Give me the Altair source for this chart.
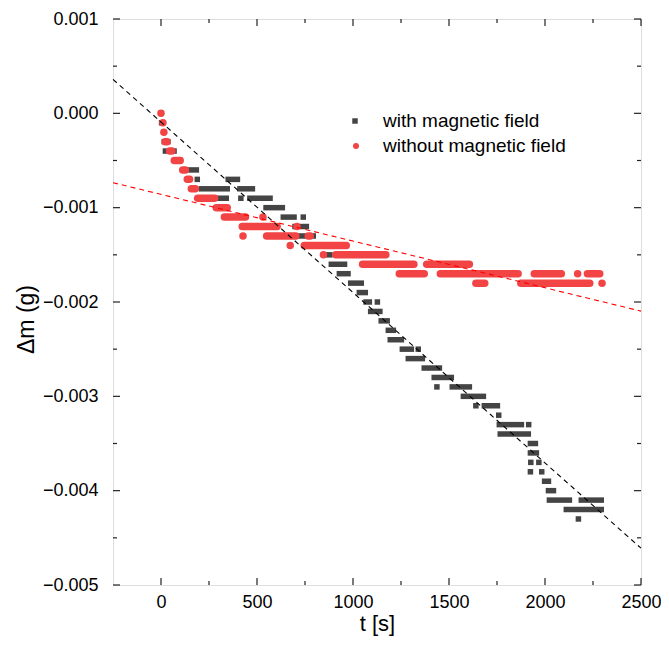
import altair as alt
import pandas as pd

# ---------------- data ----------------
# "with magnetic field": runs of equal readings -> value (g), first t (s), last t (s)
with_value = [0.0000, -0.0001, -0.0002, -0.0003, -0.0004, -0.0005, -0.0006,
              -0.0007, -0.0007, -0.0008, -0.0008, -0.0009, -0.0009, -0.0009,
              -0.0010, -0.0011, -0.0011, -0.0012, -0.0013, -0.0014, -0.0015,
              -0.0016, -0.0017, -0.0018, -0.0019, -0.0020, -0.0020, -0.0021,
              -0.0022, -0.0023, -0.0024, -0.0025, -0.0025, -0.0026, -0.0027,
              -0.0028, -0.0029, -0.0029, -0.0030, -0.0031, -0.0031, -0.0032,
              -0.0033, -0.0033, -0.0034, -0.0035, -0.0036, -0.0037, -0.0037,
              -0.0038, -0.0038, -0.0039, -0.0040, -0.0041, -0.0041, -0.0042,
              -0.0043]
with_t_start = [0, 3, 14, 17, 23, 85, 151, 189, 350, 211, 411, 290, 416, 463,
                547, 637, 741, 698, 724, 800, 860, 887, 929, 988, 1033, 1068,
                1127, 1092, 1147, 1184, 1194, 1257, 1340, 1288, 1371, 1423,
                1437, 1517, 1575, 1640, 1684, 1759, 1762, 1915, 1767, 1924,
                1924, 1926, 1968, 1924, 1983, 1998, 2018, 2023, 2189, 2111,
                2174]
with_t_end = [0, 3, 14, 36, 68, 100, 184, 189, 398, 345, 476, 340, 416, 568,
              632, 693, 741, 757, 793, 840, 880, 956, 974, 1043, 1064, 1085,
              1127, 1140, 1178, 1210, 1252, 1304, 1340, 1361, 1450, 1512,
              1437, 1606, 1679, 1640, 1752, 1759, 1877, 1915, 1913, 1950,
              1955, 1926, 1968, 1924, 1983, 2018, 2044, 2127, 2293, 2293,
              2174]

# "without magnetic field"
without_value = [0.0000, -0.0001, -0.0002, -0.0003, -0.0004, -0.0005, -0.0006,
                 -0.0007, -0.0008, -0.0009, -0.0010, -0.0011, -0.0011, -0.0012,
                 -0.0012, -0.0013, -0.0013, -0.0013, -0.0014, -0.0014, -0.0015,
                 -0.0015, -0.0016, -0.0016, -0.0017, -0.0017, -0.0017, -0.0017,
                 -0.0017, -0.0018, -0.0018, -0.0018]
without_t_start = [0, 10, 15, 22, 45, 69, 113, 137, 158, 191, 288, 330, 531,
                   423, 708, 427, 550, 767, 673, 746, 846, 910, 1050, 1384,
                   1241, 1455, 1944, 2170, 2221, 1640, 1874, 2297]
without_t_end = [0, 10, 15, 31, 57, 100, 127, 149, 179, 279, 345, 440, 531,
                 605, 708, 427, 702, 777, 673, 965, 846, 1171, 1317, 1606,
                 1371, 1860, 2085, 2170, 2285, 1686, 2233, 2297]

# linear fits: intercept (g), slope (g/s)
fit_names = ["with", "without"]
fit_intercept = [-0.000092, -0.000859]
fit_slope = [-1.807e-6, -4.95e-7]

legend_labels = ["with magnetic field", "without magnetic field"]

x_major = [0, 500, 1000, 1500, 2000, 2500]
x_minor = [250, 750, 1250, 1750, 2250]
y_major = [-0.005, -0.004, -0.003, -0.002, -0.001, 0.000, 0.001]
y_minor = [-0.0045, -0.0035, -0.0025, -0.0015, -0.0005, 0.0005]

X_DOMAIN = [-250, 2500]
Y_DOMAIN = [-0.005, 0.001]

# ---------------- tables ----------------
df_with = pd.DataFrame({"v": with_value, "t0": with_t_start, "t1": with_t_end})
df_without = pd.DataFrame({"v": without_value, "t0": without_t_start, "t1": without_t_end})
fit_rows = []
for n, a, b in zip(fit_names, fit_intercept, fit_slope):
    for t in X_DOMAIN:
        fit_rows.append({"series": n, "t": t, "v": a + b * t})
df_fit = pd.DataFrame(fit_rows)

W, H = 528, 566
BLACK = "#444444"
RED = "#F24444"
FONT = "Liberation Sans"

xs = alt.Scale(domain=X_DOMAIN, nice=False, zero=False)
ys = alt.Scale(domain=Y_DOMAIN, nice=False, zero=False)

x_axis = alt.Axis(
    values=x_major, format="d", title="t [s]", grid=False, ticks=False,
    domain=False, labelFontSize=18, labelPadding=8, titleFontSize=22,
    titleFontWeight="normal", titlePadding=2, labelColor="#000",
    titleColor="#000", labelFont=FONT, titleFont=FONT, labelFlush=False)
y_axis = alt.Axis(
    values=y_major, format=".3f", title="Δm (g)", grid=False, ticks=False,
    domain=False, labelFontSize=18, labelPadding=15, titleFontSize=23,
    titleFontWeight="normal", titlePadding=4, labelColor="#000",
    titleColor="#000", labelFont=FONT, titleFont=FONT, labelFlush=False,
    titleY=300)

def X(field):
    return alt.X(field, type="quantitative", scale=xs, axis=x_axis)

def Y(field):
    return alt.Y(field, type="quantitative", scale=ys, axis=y_axis)

# points drawn as runs of equal readings
with_layer = alt.Chart(df_with).mark_rule(
    color=BLACK, strokeWidth=5.5, strokeCap="square"
).encode(x=X("t0"), x2="t1:Q", y=Y("v"))

without_layer = alt.Chart(df_without).mark_rule(
    color=RED, strokeWidth=7.5, strokeCap="round"
).encode(x=X("t0"), x2="t1:Q", y=Y("v"))

fit_with = alt.Chart(df_fit).transform_filter(alt.datum.series == "with").mark_line(
    color="#000000", strokeWidth=1.1, strokeDash=[5, 4]
).encode(x=X("t"), y=Y("v"))

fit_without = alt.Chart(df_fit).transform_filter(alt.datum.series == "without").mark_line(
    color="#FF0000", strokeWidth=1.1, strokeDash=[5, 4]
).encode(x=X("t"), y=Y("v"))

# inward ticks
def xticks(vals, length):
    d = pd.DataFrame({"t": vals})
    base = alt.Chart(d).mark_rule(color="#222", strokeWidth=1.2)
    bottom = base.encode(x=X("t"), y=alt.value(H), y2=alt.value(H - length))
    top = base.encode(x=X("t"), y=alt.value(0), y2=alt.value(length))
    return [bottom, top]

def yticks(vals, length):
    d = pd.DataFrame({"v": vals})
    base = alt.Chart(d).mark_rule(color="#222", strokeWidth=1.2)
    left = base.encode(y=Y("v"), x=alt.value(0), x2=alt.value(length))
    right = base.encode(y=Y("v"), x=alt.value(W), x2=alt.value(W - length))
    return [left, right]

tick_layers = xticks(x_major, 7) + xticks(x_minor, 4) + yticks(y_major, 7) + yticks(y_minor, 4)

# legend
df_leg = pd.DataFrame({"label": legend_labels, "row": [0, 1]})
leg_sq = alt.Chart(df_leg).transform_filter(alt.datum.row == 0).mark_square(
    color=BLACK, size=30, opacity=1).encode(x=alt.value(242), y=alt.value(102))
leg_ci = alt.Chart(df_leg).transform_filter(alt.datum.row == 1).mark_circle(
    color=RED, size=36, opacity=1).encode(x=alt.value(243), y=alt.value(127))
leg_t0 = alt.Chart(df_leg).transform_filter(alt.datum.row == 0).mark_text(
    align="left", baseline="middle", fontSize=19, font=FONT, color="#000"
).encode(x=alt.value(270), y=alt.value(102), text="label:N")
leg_t1 = alt.Chart(df_leg).transform_filter(alt.datum.row == 1).mark_text(
    align="left", baseline="middle", fontSize=19, font=FONT, color="#000"
).encode(x=alt.value(270), y=alt.value(127), text="label:N")

chart = alt.layer(
    with_layer, without_layer, fit_with, fit_without,
    *tick_layers, leg_sq, leg_ci, leg_t0, leg_t1
).properties(
    width=W, height=H,
    autosize=alt.AutoSizeParams(type="none"),
    padding={"left": 105, "top": 11, "right": 20, "bottom": 52},
).configure_view(
    stroke="#222", strokeWidth=1.4
).configure(background="white")

chart.save("out.html", embed_options={"renderer": "svg", "actions": False})
